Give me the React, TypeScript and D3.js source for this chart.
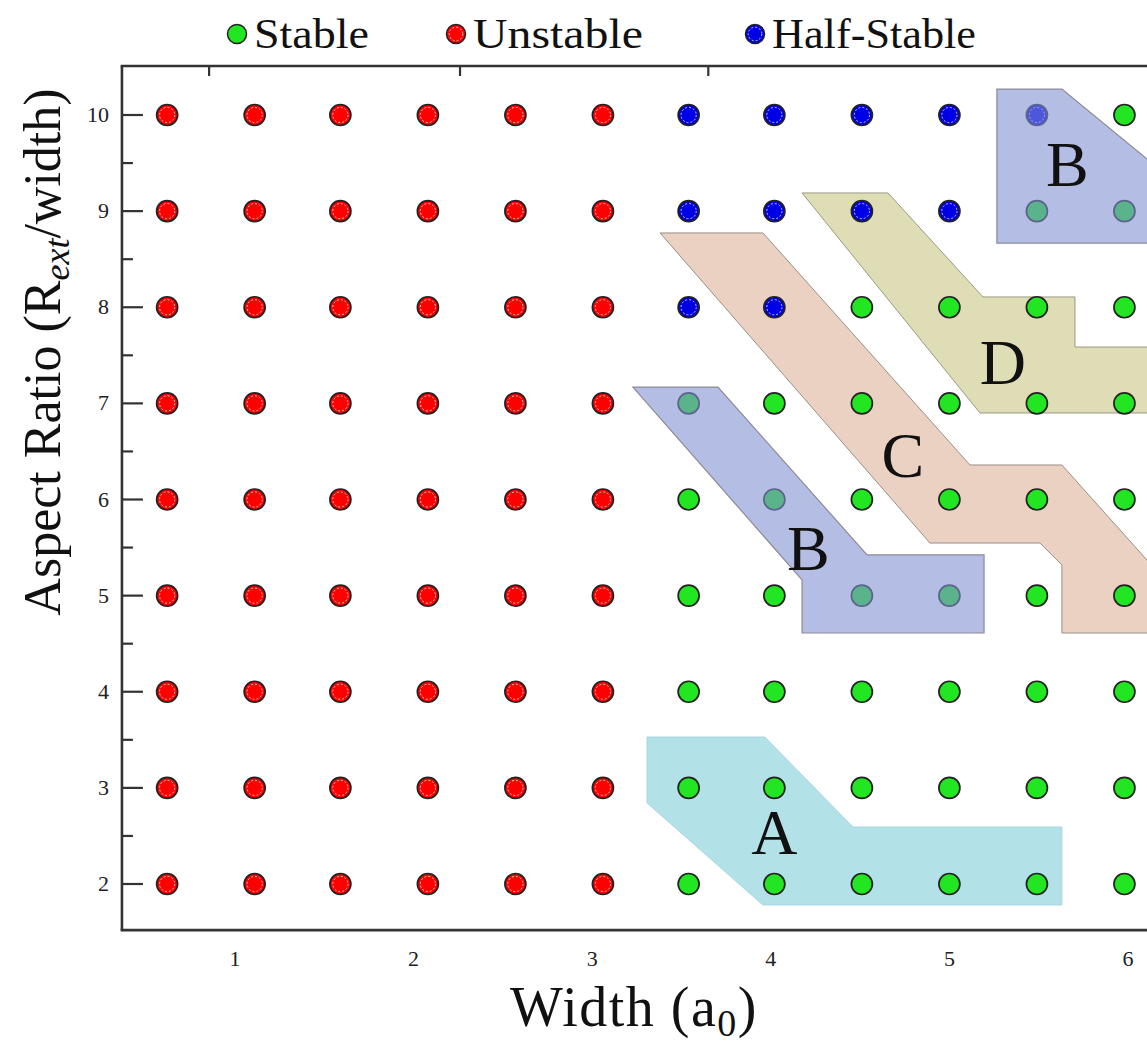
import React from 'react';
import * as d3 from 'd3';

// ---- data ----
const widths = [0.62, 1.11, 1.59, 2.08, 2.57, 3.06, 3.54, 4.02, 4.51, 5.0, 5.49, 5.98];
const ratios = [10, 9, 8, 7, 6, 5, 4, 3, 2];
// U = Unstable, S = Stable, H = Half-Stable (one string per ratio row, one char per width)
const stabilityRows = [
  'UUUUUUHHHHHS',
  'UUUUUUHHHHSS',
  'UUUUUUHHSSSS',
  'UUUUUUSSSSSS',
  'UUUUUUSSSSSS',
  'UUUUUUSSSSSS',
  'UUUUUUSSSSSS',
  'UUUUUUSSSSSS',
  'UUUUUUSSSSSS',
];
const xTickValues = [1, 2, 3, 4, 5, 6];
const yTickValues = [2, 3, 4, 5, 6, 7, 8, 9, 10];
const yMinorTickValues = [2.5, 3.5, 4.5, 5.5, 6.5, 7.5, 8.5, 9.5];
const topTickValues = [0.855, 2.26, 3.65];

const legendItems = [
  { key: 'S', label: 'Stable' },
  { key: 'U', label: 'Unstable' },
  { key: 'H', label: 'Half-Stable' },
];

const regionA: [number, number][] = [
  [3.307, 3.529], [3.967, 3.529], [4.46, 2.593], [5.63, 2.593],
  [5.63, 1.782], [3.956, 1.782], [3.307, 2.843],
];
const regionBLower: [number, number][] = [
  [3.228, 7.17], [3.704, 7.17], [4.539, 5.423], [5.194, 5.423],
  [5.194, 4.611], [4.175, 4.611], [4.175, 5.163],
];
const regionBUpper: [number, number][] = [
  [5.266, 10.27], [5.63, 10.27], [6.291, 9.26], [6.291, 8.668], [5.266, 8.668],
];
const regionC: [number, number][] = [
  [3.38, 8.773], [3.956, 8.773], [5.115, 6.359], [5.63, 6.359], [6.291, 4.986],
  [6.291, 4.611], [5.63, 4.611], [5.63, 5.319], [5.507, 5.547], [4.891, 5.547],
];
const regionD: [number, number][] = [
  [4.175, 9.189], [4.656, 9.189], [5.188, 8.107], [5.703, 8.107], [5.703, 7.586],
  [6.291, 7.586], [6.291, 6.9], [5.171, 6.9],
];
const regionLabels = [
  { text: 'A', x: 4.02, y: 2.31 },
  { text: 'B', x: 4.21, y: 5.27 },
  { text: 'C', x: 4.74, y: 6.23 },
  { text: 'D', x: 5.3, y: 7.2 },
  { text: 'B', x: 5.66, y: 9.26 },
];

const colors: Record<string, string> = { S: '#22e622', U: '#ff0000', H: '#0000e6' };

const FONT = '"Liberation Serif", "DejaVu Serif", serif';

export default function App() {
  const W = 1147;
  const H = 1047;
  const x = d3.scaleLinear().domain([1, 6]).range([235, 1128]);
  const y = d3.scaleLinear().domain([2, 10]).range([884, 115]);
  const xLeft = x(0.367);
  const yTop = y(10.51);
  const yBottom = y(1.52);
  const poly = d3.line<[number, number]>().x((d) => x(d[0])).y((d) => y(d[1]));
  const path = (pts: [number, number][]) => poly(pts) + 'Z';

  const points: { cx: number; cy: number; k: string }[] = [];
  ratios.forEach((r, i) => {
    widths.forEach((w, j) => {
      points.push({ cx: x(w), cy: y(r), k: stabilityRows[i][j] });
    });
  });

  const legendX = [237, 456, 755];
  const legendLen = [115, 170, 204];

  return (
    <svg
      width={W}
      height={H}
      style={{ position: 'absolute', left: 0, top: 0, display: 'block', background: '#fff' }}
      fontFamily={FONT}
    >
      <defs>
        <clipPath id="plotclip">
          <rect x={xLeft} y={yTop} width={W - xLeft} height={yBottom - yTop} />
        </clipPath>
      </defs>
      <rect x={0} y={0} width={W} height={H} fill="#fff" />

      {/* regions beneath points */}
      <g clipPath="url(#plotclip)">
        <path d={path(regionA)} fill="#b3e1e8" stroke="#a9d6de" strokeWidth={1} />
        <path d={path(regionC)} fill="#ebd1c1" stroke="#9a8e86" strokeWidth={1} />
        <path d={path(regionD)} fill="#dfddb5" stroke="#9a9882" strokeWidth={1} />
      </g>

      {/* points */}
      <g>
        {points.map((p, i) => (
          <g key={i}>
            <circle cx={p.cx} cy={p.cy} r={10.5} fill={colors[p.k]} stroke="#222" strokeWidth={1.7} />
            {p.k !== 'S' && (
              <circle cx={p.cx} cy={p.cy} r={7.6} fill="none" stroke="#fff" strokeWidth={0.9} strokeDasharray="2 2" opacity={0.85} />
            )}
          </g>
        ))}
      </g>

      {/* translucent B regions above points */}
      <g clipPath="url(#plotclip)">
        <path d={path(regionBLower)} fill="#8291d2" fillOpacity={0.6} stroke="#8a8a96" strokeWidth={1.2} />
        <path d={path(regionBUpper)} fill="#8291d2" fillOpacity={0.6} stroke="#8a8a96" strokeWidth={1.2} />
      </g>

      {/* region labels */}
      {regionLabels.map((l, i) => (
        <text key={i} x={x(l.x)} y={y(l.y)} textAnchor="middle" fontSize={64} fill="#111">
          {l.text}
        </text>
      ))}

      {/* frame */}
      <g stroke="#333" strokeWidth={2.6} fill="none">
        <line x1={xLeft} x2={xLeft} y1={yTop} y2={yBottom} />
        <line x1={xLeft - 1.3} x2={W} y1={yBottom} y2={yBottom} />
        <line x1={xLeft - 1.3} x2={W} y1={yTop} y2={yTop} />
      </g>

      {/* y ticks */}
      <g stroke="#333" strokeWidth={2.2}>
        {yTickValues.map((v) => (
          <line key={v} x1={xLeft} x2={xLeft + 21} y1={y(v)} y2={y(v)} />
        ))}
        {yMinorTickValues.map((v) => (
          <line key={'m' + v} x1={xLeft} x2={xLeft + 11} y1={y(v)} y2={y(v)} />
        ))}
        {topTickValues.map((v) => (
          <line key={'t' + v} x1={x(v)} x2={x(v)} y1={yTop} y2={yTop + 10} />
        ))}
      </g>

      {/* tick labels */}
      <g fontSize={22} fill="#222">
        {yTickValues.map((v) => (
          <text key={v} x={109} y={y(v) + 7} textAnchor="end">{v}</text>
        ))}
        {xTickValues.map((v) => (
          <text key={v} x={x(v)} y={966} textAnchor="middle">{v}</text>
        ))}
      </g>

      {/* axis titles */}
      <text x={634} y={1026} textAnchor="middle" fontSize={56} fill="#111" letterSpacing={1.5}>
        Width (a<tspan fontSize={38} dy={10}>0</tspan><tspan dy={-10}>)</tspan>
      </text>
      <text transform="translate(60,352) rotate(-90)" textAnchor="middle" fontSize={52} fill="#111">
        Aspect Ratio (R<tspan fontSize={36} fontStyle="italic" dy={9}>ext</tspan>
        <tspan dy={-9}>/width)</tspan>
      </text>

      {/* legend */}
      {legendItems.map((it, i) => (
        <g key={it.key}>
          <circle cx={legendX[i]} cy={34} r={9.5} fill={colors[it.key]} stroke="#222" strokeWidth={1.5} />
          {it.key !== 'S' && (
            <circle cx={legendX[i]} cy={34} r={6.8} fill="none" stroke="#fff" strokeWidth={0.9} strokeDasharray="2 2" opacity={0.85} />
          )}
          <text
            x={legendX[i] + 17}
            y={48}
            fontSize={42}
            fill="#111"
            textLength={legendLen[i]}
            lengthAdjust="spacingAndGlyphs"
          >
            {it.label}
          </text>
        </g>
      ))}
    </svg>
  );
}
